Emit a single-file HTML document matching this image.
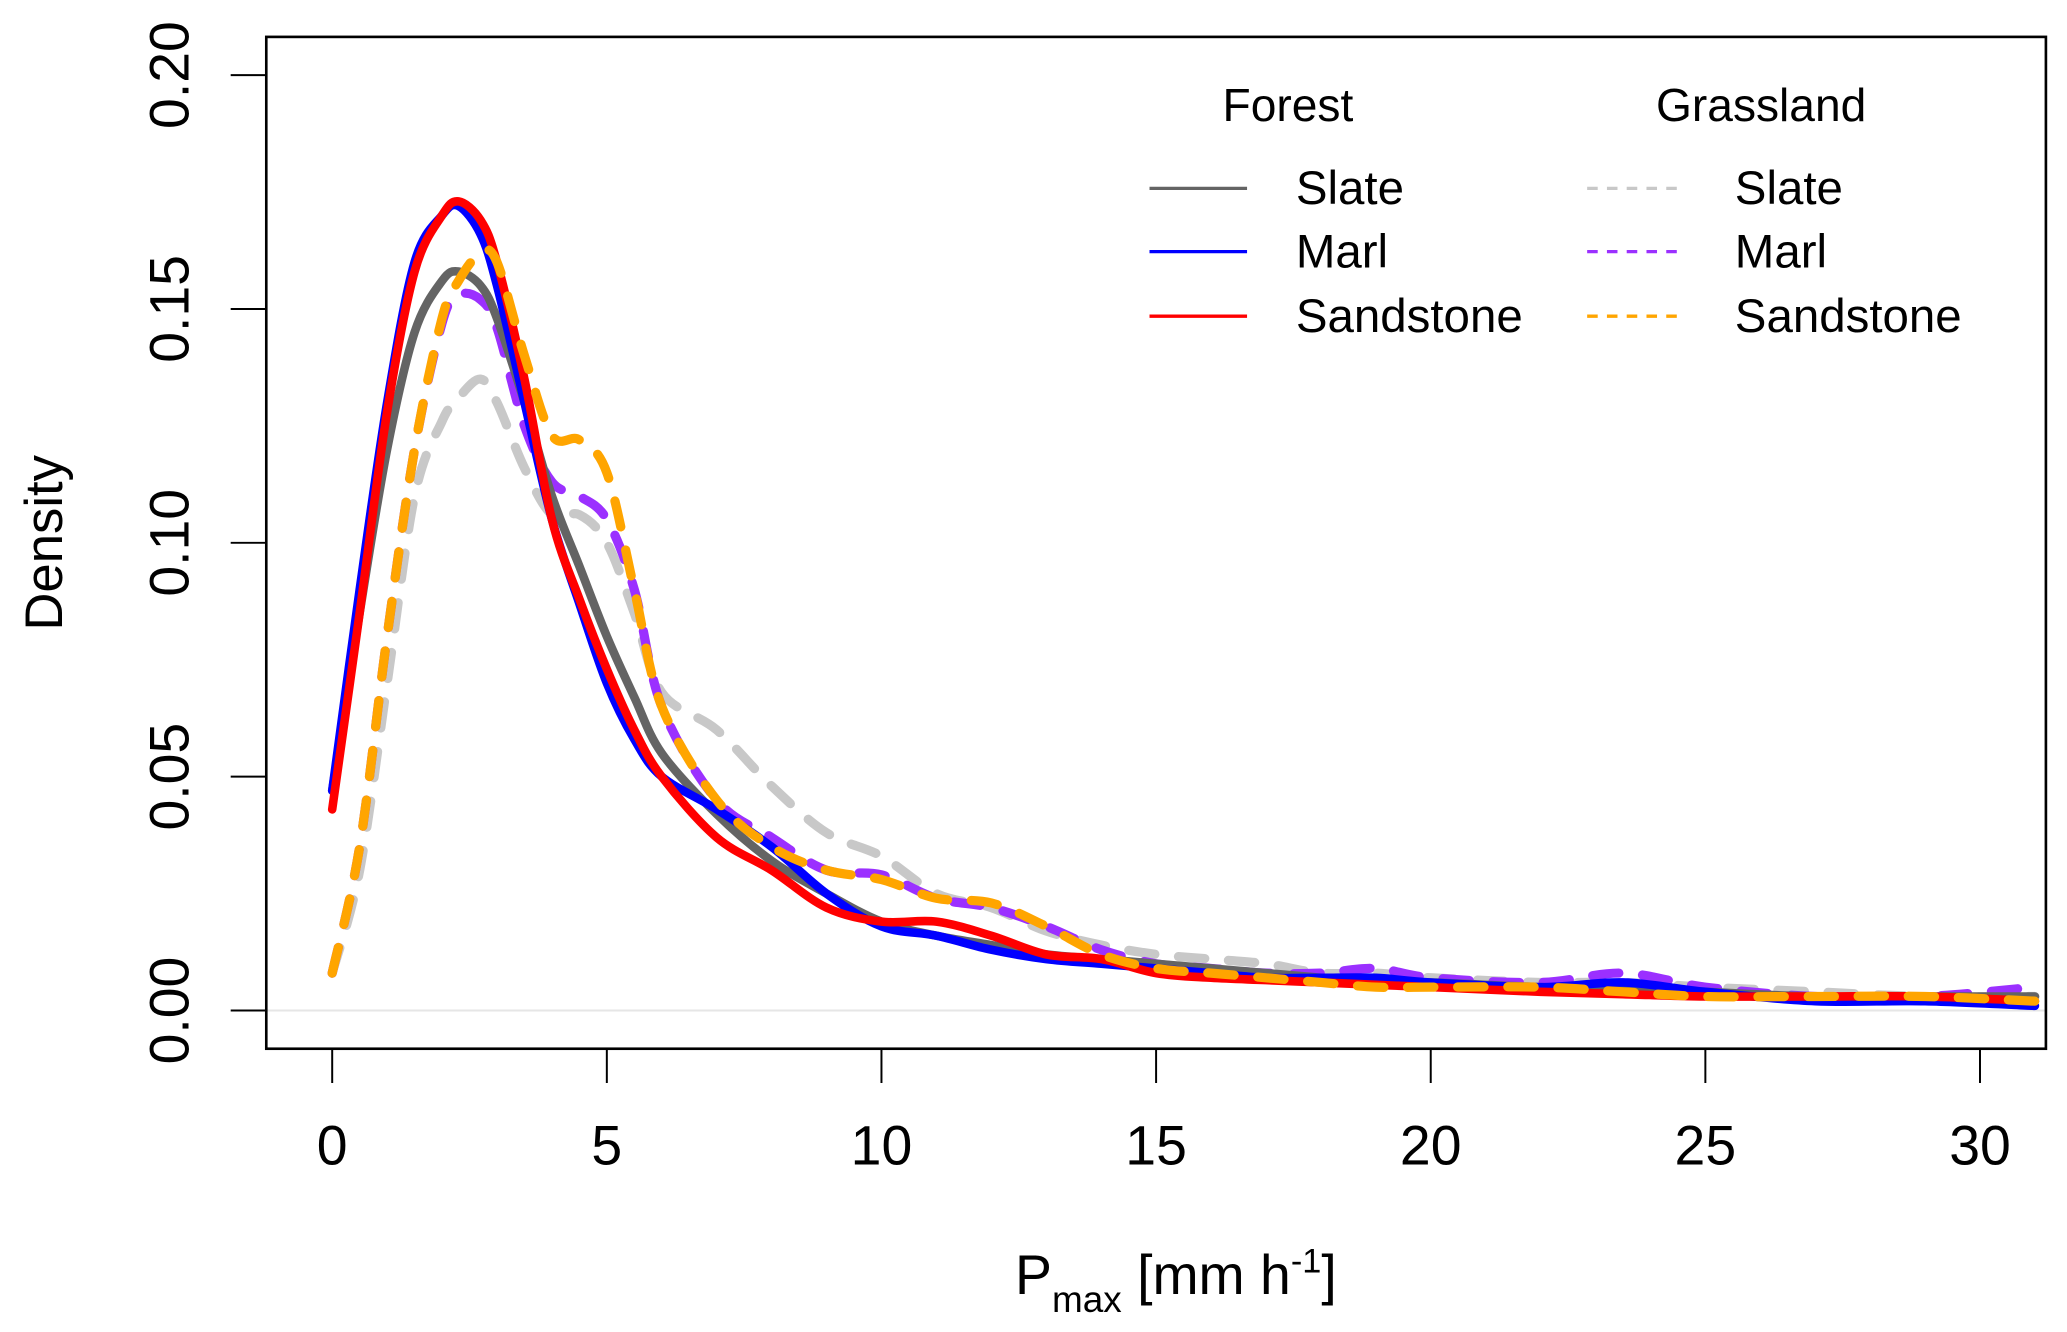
<!DOCTYPE html>
<html><head><meta charset="utf-8"><style>
html,body{margin:0;padding:0;background:#fff;}
svg{display:block;font-family:"Liberation Sans",Arial,sans-serif;}
</style></head><body>
<svg id="chart" width="2067" height="1332" viewBox="0 0 1568 1011" preserveAspectRatio="none" xmlns="http://www.w3.org/2000/svg">
<defs><clipPath id="clip"><rect x="202" y="28" width="1350" height="768"/></clipPath></defs>
<g id="grid" clip-path="url(#clip)"></g>
<g id="series" clip-path="url(#clip)"></g>
<rect x="202" y="28" width="1350" height="768" fill="none" stroke="#000" stroke-width="2"/>
<g id="axes"></g>
<text transform="translate(47,412) rotate(-90)" text-anchor="middle" font-size="40">Density</text>
<text x="770" y="982" font-size="42">P<tspan font-size="28" dy="14">max</tspan><tspan dy="-14"> [mm h</tspan><tspan font-size="26" dy="-16">-1</tspan><tspan dy="16">]</tspan></text>
<g id="legend">
<text x="977" y="92" text-anchor="middle" font-size="35">Forest</text>
<text x="1336" y="92" text-anchor="middle" font-size="35">Grassland</text>
</g>
</svg>
<script>
const xTicks=[0,5,10,15,20,25,30];
const yTicks=[0,0.05,0.10,0.15,0.20];
const yTickLabels=["0.00","0.05","0.10","0.15","0.20"];
const xs=[0,0.5,1,1.5,2,2.3,2.7,3,3.5,4,4.5,5,5.5,6,7,8,9,10,11,12,13,14,15,16,17,18,19,20,22,23.5,25,27,29,31];
const forestSlate=[0.047,0.085,0.12,0.145,0.156,0.158,0.155,0.148,0.13,0.11,0.095,0.08,0.067,0.055,0.042,0.032,0.025,0.019,0.016,0.014,0.012,0.011,0.010,0.009,0.008,0.007,0.006,0.006,0.005,0.005,0.004,0.003,0.003,0.003];
const forestMarl=[0.047,0.09,0.13,0.16,0.17,0.172,0.166,0.155,0.13,0.105,0.087,0.07,0.058,0.05,0.043,0.035,0.025,0.018,0.016,0.013,0.011,0.010,0.009,0.008,0.007,0.007,0.007,0.006,0.005,0.006,0.004,0.002,0.002,0.001];
const forestSand=[0.043,0.085,0.128,0.158,0.17,0.173,0.169,0.16,0.135,0.105,0.088,0.073,0.06,0.05,0.037,0.03,0.022,0.019,0.019,0.016,0.012,0.011,0.008,0.007,0.0065,0.006,0.0055,0.005,0.004,0.0035,0.003,0.003,0.003,0.002];
const grassSlate=[0.008,0.03,0.07,0.11,0.126,0.131,0.135,0.13,0.116,0.106,0.106,0.1,0.085,0.068,0.06,0.048,0.038,0.033,0.025,0.022,0.017,0.014,0.012,0.011,0.01,0.008,0.008,0.007,0.006,0.006,0.005,0.004,0.003,0.003];
const grassMarl=[0.008,0.035,0.08,0.12,0.147,0.153,0.152,0.146,0.125,0.113,0.11,0.105,0.09,0.065,0.045,0.037,0.03,0.029,0.024,0.022,0.018,0.013,0.01,0.009,0.008,0.008,0.009,0.007,0.006,0.008,0.005,0.003,0.003,0.005];
const grassSand=[0.008,0.035,0.08,0.12,0.148,0.156,0.162,0.16,0.14,0.123,0.122,0.115,0.09,0.065,0.045,0.035,0.03,0.028,0.024,0.023,0.018,0.012,0.009,0.008,0.007,0.006,0.005,0.005,0.005,0.004,0.003,0.003,0.003,0.002];
const seriesNames=["Slate","Marl","Sandstone","Slate","Marl","Sandstone"];

const NS="http://www.w3.org/2000/svg";
const X=v=>252+v*(1250/30);
const Y=v=>767-v*(710/0.20);
function mk(tag,attrs,parent){const e=document.createElementNS(NS,tag);for(const k in attrs)e.setAttribute(k,attrs[k]);parent.appendChild(e);return e;}
const axes=document.getElementById('axes');
const grid=document.getElementById('grid');
const zl=mk('line',{x1:202,x2:1552,y1:Y(0),y2:Y(0),stroke:'#e6e6e6','stroke-width':1.5},grid);


xTicks.forEach(t=>{
  const l=mk('line',{x1:X(t),x2:X(t),y1:796,y2:822,stroke:'#000','stroke-width':1.5},axes);
  
  
  const tx=mk('text',{x:X(t),y:884,'text-anchor':'middle','font-size':42},axes);tx.textContent=t;
  
  
});
yTicks.forEach((t,i)=>{
  const l=mk('line',{x1:175,x2:202,y1:Y(t),y2:Y(t),stroke:'#000','stroke-width':1.5},axes);
  
  
  const tx=mk('text',{transform:`translate(143,${Y(t)}) rotate(-90)`,'text-anchor':'middle','font-size':42},axes);tx.textContent=yTickLabels[i];
  
  
});
function pathFor(ys){
  const p=xs.map((x,i)=>[X(x),Y(ys[i])]);
  let d=`M${p[0][0]},${p[0][1]}`;
  for(let i=0;i<p.length-1;i++){
    const p0=p[Math.max(0,i-1)],p1=p[i],p2=p[i+1],p3=p[Math.min(p.length-1,i+2)];
    const c1=[p1[0]+(p2[0]-p0[0])/6,p1[1]+(p2[1]-p0[1])/6];
    const c2=[p2[0]-(p3[0]-p1[0])/6,p2[1]-(p3[1]-p1[1])/6];
    d+=` C${c1[0]},${c1[1]} ${c2[0]},${c2[1]} ${p2[0]},${p2[1]}`;
  }
  return d;
}
const sg=document.getElementById('series');
const defs=[
 [grassSlate,'#c8c8c8',true,'grassland-slate'],
 [grassMarl,'#9b30ff',true,'grassland-marl'],
 [forestSlate,'#646464',false,'forest-slate'],
 [forestMarl,'#0000ff',false,'forest-marl'],
 [forestSand,'#ff0000',false,'forest-sandstone'],
 [grassSand,'#ffa500',true,'grassland-sandstone']
];
defs.forEach(([ys,c,dash,name])=>{
  const a={d:pathFor(ys),fill:'none',stroke:c,'stroke-width':dash?7:6.5,'stroke-linecap':'round','stroke-linejoin':'round'};
  if(dash)a['stroke-dasharray']='20 18';
  const e=mk('path',a,sg);
  
  
});
const lg=document.getElementById('legend');
const legendItems=[['#646464',false,872,983,143,0],['#0000ff',false,872,983,191,1],['#ff0000',false,872,983,240,2],['#c8c8c8',true,1204,1316,143,3],['#9b30ff',true,1204,1316,191,4],['#ffa500',true,1204,1316,240,5]];
legendItems.forEach(([c,dash,lx,tx,y,i])=>{
  const a={x1:lx,x2:lx+74,y1:y,y2:y,stroke:c,'stroke-width':2.5};
  if(dash)a['stroke-dasharray']='8 7';
  const l=mk('line',a,lg);
  
  
  const t=mk('text',{x:tx,y:y+12,'font-size':36},lg);t.textContent=seriesNames[i];
  
  
});
</script>
</body></html>
